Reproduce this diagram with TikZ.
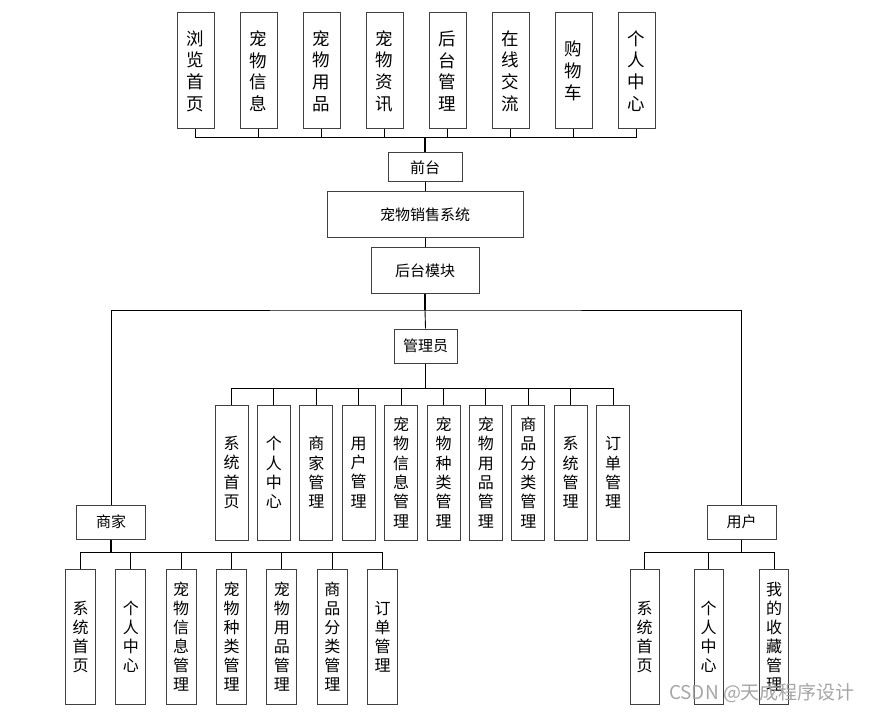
\documentclass[tikz,border=0pt]{standalone}
\usepackage{fontspec}
\newfontfamily\cjk{Noto Sans CJK SC}

\begin{document}
\begin{tikzpicture}[x=1pt,y=-1pt,
    box/.style={draw=black!75,line width=1pt,fill=white,inner sep=0pt,align=center},
    topbox/.style={box,minimum width=37pt,minimum height=116pt,font=\cjk\fontsize{17.5}{21.7}\selectfont},
    subbox/.style={box,minimum width=33pt,minimum height=135pt,font=\cjk\fontsize{16}{19.3}\selectfont},
    leafbox/.style={box,minimum width=30pt,minimum height=135pt,font=\cjk\fontsize{16}{19}\selectfont},
    midbox/.style={box,font=\cjk\fontsize{15}{17}\selectfont},
    link/.style={draw=black,line width=0.9pt},
    trunk/.style={link,line width=1.8pt}]
  \useasboundingbox (0,0) rectangle (873,714);

  \foreach \lbl [count=\i from 0] in {{浏\\览\\首\\页},{宠\\物\\信\\息},{宠\\物\\用\\品},{宠\\物\\资\\讯},
      {后\\台\\管\\理},{在\\线\\交\\流},{购\\物\\车},{个\\人\\中\\心}}
    \node[topbox] (t\i) at (195.5+63*\i,71) {\lbl};

  \node[midbox,minimum width=74pt,minimum height=29pt] (qiantai) at (425,167.5) {前台};
  \node[midbox,minimum width=196pt,minimum height=46pt] (xitong) at (425,215) {宠物销售系统};
  \node[midbox,minimum width=108pt,minimum height=45pt] (houtai) at (425,270.5) {后台模块};
  \node[midbox,minimum width=63pt,minimum height=34pt] (admin) at (425.5,346) {管理员};
  \node[midbox,minimum width=69pt,minimum height=34pt] (shangjia) at (111,522) {商家};
  \node[midbox,minimum width=69pt,minimum height=34pt] (yonghu) at (741.5,522) {用户};

  \foreach \lbl [count=\i from 0] in {{系\\统\\首\\页},{个\\人\\中\\心},{商\\家\\管\\理},{用\\户\\管\\理},
      {宠\\物\\信\\息\\管\\理},{宠\\物\\种\\类\\管\\理},{宠\\物\\用\\品\\管\\理},{商\\品\\分\\类\\管\\理},
      {系\\统\\管\\理},{订\\单\\管\\理}}
    \node[subbox] (a\i) at (231.5+42.4*\i,472.5) {\lbl};

  \foreach \lbl [count=\i from 0] in {{系\\统\\首\\页},{个\\人\\中\\心},{宠\\物\\信\\息\\管\\理},
      {宠\\物\\种\\类\\管\\理},{宠\\物\\用\\品\\管\\理},{商\\品\\分\\类\\管\\理},{订\\单\\管\\理}}
    \node[leafbox] (s\i) at (80.5+50.35*\i,636.5) {\lbl};

  \node[leafbox,minimum width=29pt] (u0) at (644.5,636.5) {系\\统\\首\\页};
  \node[leafbox,minimum width=29pt] (u1) at (708.5,636.5) {个\\人\\中\\心};
  \node[leafbox,minimum width=29pt] (u2) at (774,636.5) {我\\的\\收\\藏\\管\\理};

  \coordinate (topbus) at (425,137);
  \coordinate (split) at (425,310);
  \coordinate (abus) at (425.5,388);
  \coordinate (sbus) at (111,552);
  \coordinate (ubus) at (741.5,552);

  \foreach \i in {0,...,7}
    \draw[link] (t\i.south) |- (topbus);
  \draw[trunk] (topbus) -- (qiantai.north);
  \draw[link] (qiantai) -- (xitong) -- (houtai);
  \draw[trunk] (houtai.south) -- (split);
  \draw[link] (shangjia.north) |- (split) -| (yonghu.north);
  \draw[link] (split) -- (admin.north);

  \draw[link] (admin.south) -- (abus);
  \foreach \i in {0,...,9}
    \draw[link] (abus) -| (a\i.north);
  \draw[trunk] (shangjia.south) -- (sbus);
  \foreach \i in {0,...,6}
    \draw[link] (sbus) -| (s\i.north);
  \draw[link] (yonghu.south) -- (ubus);
  \foreach \i in {0,...,2}
    \draw[link] (ubus) -| (u\i.north);

  \node[font=\cjk\fontsize{19}{21}\selectfont,text=black!35] (mark) at (762,693) {CSDN @天成程序设计};
\end{tikzpicture}
\end{document}
